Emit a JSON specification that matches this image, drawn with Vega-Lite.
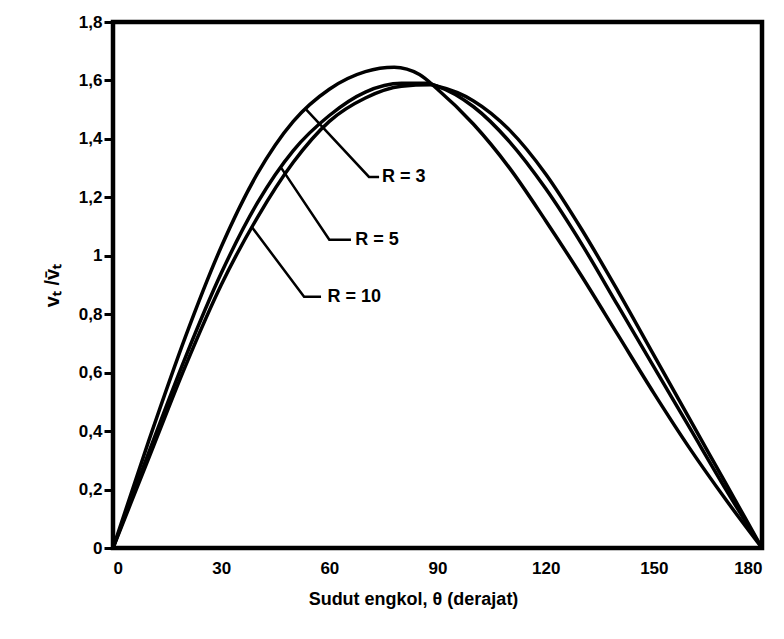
{
  "$schema": "https://vega.github.io/schema/vega-lite/v6.json",
  "autosize": "none",
  "width": 649,
  "height": 526,
  "padding": {"left": 113, "top": 22, "right": 22, "bottom": 91},
  "background": "white",
  "config": {
    "view": {"stroke": "black", "strokeWidth": 4.5},
    "font": "Liberation Sans"
  },
  "datasets": {
    "curves": [
      {"R": "3", "theta": 0, "v": 0}, {"R": "3", "theta": 10, "v": 0.37}, {"R": "3", "theta": 20, "v": 0.72},
      {"R": "3", "theta": 30, "v": 1.03}, {"R": "3", "theta": 40, "v": 1.28}, {"R": "3", "theta": 50, "v": 1.46},
      {"R": "3", "theta": 60, "v": 1.57}, {"R": "3", "theta": 70, "v": 1.63}, {"R": "3", "theta": 78, "v": 1.645},
      {"R": "3", "theta": 85, "v": 1.62}, {"R": "3", "theta": 90, "v": 1.57}, {"R": "3", "theta": 100, "v": 1.45},
      {"R": "3", "theta": 110, "v": 1.3}, {"R": "3", "theta": 120, "v": 1.12}, {"R": "3", "theta": 130, "v": 0.93},
      {"R": "3", "theta": 140, "v": 0.73}, {"R": "3", "theta": 150, "v": 0.53}, {"R": "3", "theta": 160, "v": 0.34},
      {"R": "3", "theta": 170, "v": 0.165}, {"R": "3", "theta": 180, "v": 0},
      {"R": "5", "theta": 0, "v": 0}, {"R": "5", "theta": 10, "v": 0.33}, {"R": "5", "theta": 20, "v": 0.65},
      {"R": "5", "theta": 30, "v": 0.94}, {"R": "5", "theta": 40, "v": 1.18}, {"R": "5", "theta": 50, "v": 1.36},
      {"R": "5", "theta": 60, "v": 1.48}, {"R": "5", "theta": 70, "v": 1.56}, {"R": "5", "theta": 80, "v": 1.59},
      {"R": "5", "theta": 87, "v": 1.59}, {"R": "5", "theta": 90, "v": 1.58}, {"R": "5", "theta": 100, "v": 1.51},
      {"R": "5", "theta": 110, "v": 1.39}, {"R": "5", "theta": 120, "v": 1.23}, {"R": "5", "theta": 130, "v": 1.04},
      {"R": "5", "theta": 140, "v": 0.83}, {"R": "5", "theta": 150, "v": 0.62}, {"R": "5", "theta": 160, "v": 0.41},
      {"R": "5", "theta": 170, "v": 0.2}, {"R": "5", "theta": 180, "v": 0},
      {"R": "10", "theta": 0, "v": 0}, {"R": "10", "theta": 10, "v": 0.31}, {"R": "10", "theta": 20, "v": 0.62},
      {"R": "10", "theta": 30, "v": 0.9}, {"R": "10", "theta": 40, "v": 1.13}, {"R": "10", "theta": 50, "v": 1.32},
      {"R": "10", "theta": 60, "v": 1.46}, {"R": "10", "theta": 70, "v": 1.54}, {"R": "10", "theta": 80, "v": 1.58},
      {"R": "10", "theta": 88, "v": 1.585}, {"R": "10", "theta": 90, "v": 1.58}, {"R": "10", "theta": 100, "v": 1.53},
      {"R": "10", "theta": 110, "v": 1.43}, {"R": "10", "theta": 120, "v": 1.28}, {"R": "10", "theta": 130, "v": 1.09},
      {"R": "10", "theta": 140, "v": 0.88}, {"R": "10", "theta": 150, "v": 0.66}, {"R": "10", "theta": 160, "v": 0.44},
      {"R": "10", "theta": 170, "v": 0.22}, {"R": "10", "theta": 180, "v": 0}
    ],
    "leaders": [
      {"label": "R = 3", "ord": 1, "theta": 53.6, "v": 1.5},
      {"label": "R = 3", "ord": 2, "theta": 71, "v": 1.27},
      {"label": "R = 3", "ord": 3, "theta": 73.8, "v": 1.27},
      {"label": "R = 5", "ord": 1, "theta": 46.7, "v": 1.3},
      {"label": "R = 5", "ord": 2, "theta": 60, "v": 1.055},
      {"label": "R = 5", "ord": 3, "theta": 66, "v": 1.055},
      {"label": "R = 10", "ord": 1, "theta": 38.4, "v": 1.1},
      {"label": "R = 10", "ord": 2, "theta": 53, "v": 0.86},
      {"label": "R = 10", "ord": 3, "theta": 57.7, "v": 0.86}
    ],
    "labels": [
      {"label": "R = 3", "theta": 74.6, "v": 1.27},
      {"label": "R = 5", "theta": 67.2, "v": 1.055},
      {"label": "R = 10", "theta": 59.5, "v": 0.86}
    ]
  },
  "encoding": {
    "x": {
      "field": "theta", "type": "quantitative",
      "scale": {"domain": [0, 180], "nice": false},
      "axis": {
        "values": [0, 30, 60, 90, 120, 150, 180],
        "title": "Sudut engkol, θ  (derajat)",
        "grid": false, "domain": false, "ticks": false,
        "labelPadding": 12, "labelFontSize": 17, "labelFontWeight": "bold", "labelColor": "black",
        "labelFont": "Liberation Sans",
        "titleFontSize": 18, "titleFontWeight": "bold", "titleColor": "black", "titlePadding": 14,
        "titleFont": "Liberation Sans", "titleX": 300, "titleAlign": "center"
      }
    },
    "y": {
      "field": "v", "type": "quantitative",
      "scale": {"domain": [0, 1.8], "nice": false},
      "axis": {
        "values": [0, 0.2, 0.4, 0.6, 0.8, 1, 1.2, 1.4, 1.6, 1.8],
        "labelExpr": "replace(format(datum.value, '~g'), '.', ',')",
        "title": "vₜ /v̄ₜ",
        "grid": false, "domain": false,
        "ticks": true, "tickSize": 9, "tickWidth": 3, "tickColor": "black",
        "labelPadding": 2, "labelFontSize": 17, "labelFontWeight": "bold", "labelColor": "black",
        "labelFont": "Liberation Sans",
        "titleFontSize": 20, "titleFontWeight": "bold", "titleColor": "black", "titlePadding": 16,
        "titleFont": "Liberation Sans"
      }
    }
  },
  "layer": [
    {
      "data": {"name": "curves"},
      "mark": {"type": "line", "color": "black", "strokeWidth": 3.5, "interpolate": "monotone"},
      "encoding": {"detail": {"field": "R"}}
    },
    {
      "data": {"name": "leaders"},
      "mark": {"type": "line", "color": "black", "strokeWidth": 2.5},
      "encoding": {"detail": {"field": "label"}, "order": {"field": "ord"}}
    },
    {
      "data": {"name": "labels"},
      "mark": {"type": "text", "align": "left", "baseline": "middle", "fontSize": 18, "fontWeight": "bold", "color": "black", "font": "Liberation Sans"},
      "encoding": {"text": {"field": "label"}}
    }
  ]
}
